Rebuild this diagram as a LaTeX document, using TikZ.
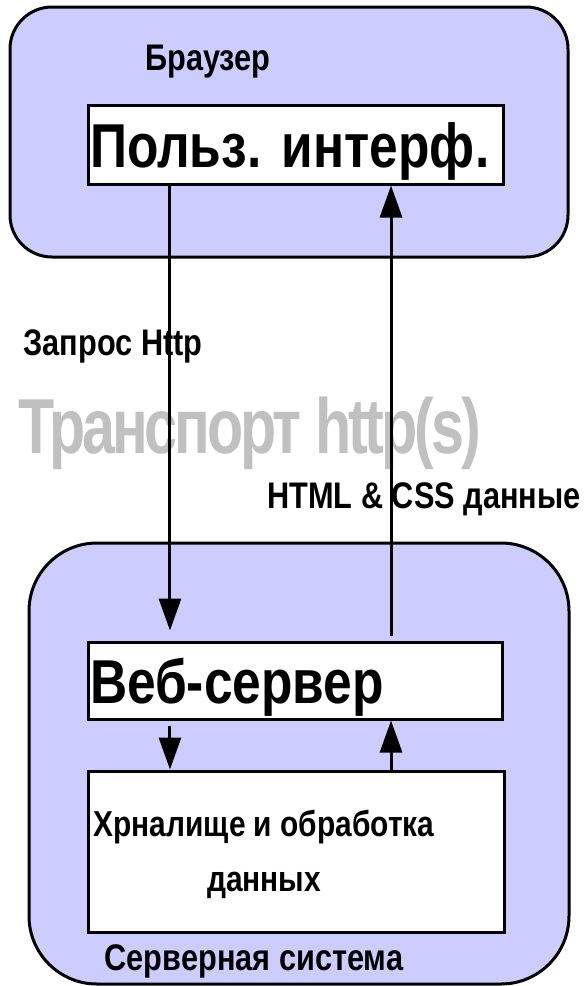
\documentclass[tikz,border=0pt]{standalone}
\usepackage{fontspec}
\setmainfont{Liberation Sans}[FakeStretch=0.83]
\newfontfamily\transportfont{Liberation Sans}[FakeStretch=0.76, LetterSpace=-4]
\usepackage{xcolor}
\usepackage{tikz}
\usetikzlibrary{shapes,arrows.meta,positioning}
\frenchspacing
\definecolor{systemfill}{RGB}{204,204,255}
\definecolor{transportgray}{RGB}{192,192,192}
\tikzstyle{system} = [rectangle, draw, line width=2.25pt, fill=systemfill]
\tikzstyle{block} = [rectangle, draw, line width=2.25pt, fill=white, inner xsep=1.5pt, align=left, font=\fontsize{46.5pt}{50pt}\selectfont\bfseries, text height=34.5pt, text depth=0pt]
\tikzstyle{storebox} = [rectangle, draw, line width=2.25pt, fill=white]
\tikzstyle{caption} = [font=\fontsize{27.75pt}{30pt}\selectfont\bfseries, anchor=base, inner sep=0pt]
\tikzstyle{storetext} = [font=\fontsize{27pt}{41.25pt}\selectfont\bfseries, align=center, inner sep=0pt]
\tikzstyle{transport} = [font=\transportfont\fontsize{58.5pt}{60pt}\selectfont\bfseries, text=transportgray, anchor=base, inner sep=0pt]
\tikzstyle{line} = [draw, line width=2.25pt, -{Triangle[length=24pt,width=16.5pt]}]

\begin{document}
\begin{tikzpicture}[x=0.75pt, y=-0.75pt]
            \useasboundingbox (0,0) rectangle (587,986);

            % outer systems
            \node[system, rounded corners=31.5pt, minimum width=418.5pt, minimum height=187.5pt] (browser) at (289,132) {};
            \node[system, rounded corners=51pt, minimum width=405pt, minimum height=330.75pt] (server) at (299,763.5) {};

            % inner blocks
            \node[block, text width=308.25pt, minimum height=59.25pt] (ui) at (295.5,144.5){
                Польз. интерф.
            };

            \node[block, text width=307.5pt, minimum height=57.75pt] (webserver) at (295,680.5){
                Веб-сервер
            };

            \node[storebox, minimum width=312pt, minimum height=120.75pt] (storage) at (296,851.5) {};

            \node[storetext] (storage_text) at (264,854.5){
                Хрналище и обработка\\данных
            };

            % captions
            \node[caption] (browser_label) at (208,70) {Браузер};
            \node[caption] (server_label) at (254,970) {Серверная система};
            \node[caption] (request_label) at (113,355) {Запрос Http};
            \node[transport] (transport_label) at (249.5,453) {Транспорт http(s)};
            \node[caption] (response_label) at (424,508) {HTML \& CSS данные};

            \path[line, shorten >=7.5pt] ([xshift=62.6pt]ui.south west) -- ([xshift=62.6pt]webserver.north west);
            \path[line, shorten <=3.75pt] ([xshift=62.6pt]webserver.south west) -- ([xshift=62.6pt]storage.north west);
            \path[line] ([xshift=228.4pt]storage.north west) -- ([xshift=228.4pt]webserver.south west);
            \path[line, shorten <=3.75pt] ([xshift=228.4pt]webserver.north west) -- ([xshift=228.4pt]ui.south west);

        \end{tikzpicture}
\end{document}
